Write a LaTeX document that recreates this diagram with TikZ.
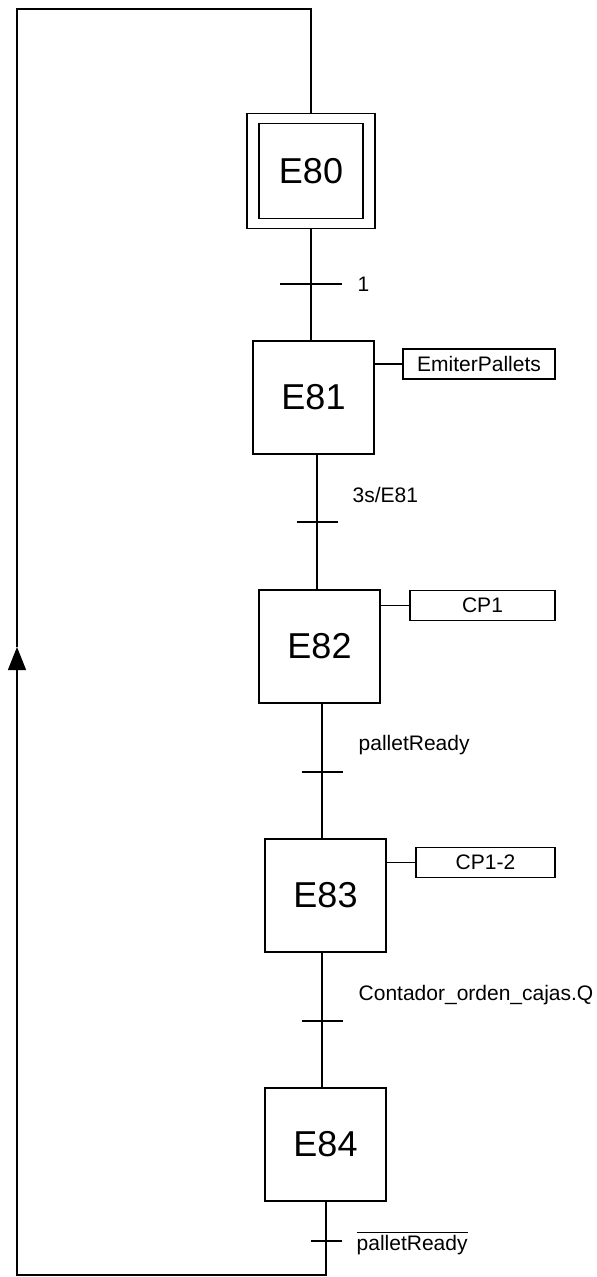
\documentclass[tikz,border=0pt]{standalone}
\usepackage{fontspec}
\setmainfont{Liberation Sans}
\usetikzlibrary{arrows.meta}

\begin{document}
\begin{tikzpicture}[x=0.5pt, y=-0.5pt, line width=0.7pt,
    stepbox/.style={draw, minimum width=60.5pt, minimum height=56.5pt, inner sep=0pt, font=\fontsize{18}{20}\selectfont},
    actbox/.style={draw, minimum height=15pt, inner sep=0pt, font=\fontsize{10.5}{12}\selectfont},
    cond/.style={anchor=west, inner sep=0pt, font=\fontsize{10.5}{12}\selectfont}]
    \useasboundingbox (0,0) rectangle (597,1277);

    % Steps
    \node[stepbox, minimum width=52pt, minimum height=47.5pt] (E80) at (311,171) {E80};
    \node[draw, minimum width=64pt, minimum height=57.5pt] (E80f) at (E80) {};
    \node[stepbox] (E81) at (313.5,397.5) {E81};
    \node[stepbox] (E82) at (319.5,646.5) {E82};
    \node[stepbox] (E83) at (325.5,895.5) {E83};
    \node[stepbox] (E84) at (325.5,1144.5) {E84};

    % Actions
    \node[actbox, minimum width=76pt] (A81) at (479,364) {EmiterPallets};
    \node[actbox, minimum width=72.5pt] (A82) at (482.5,605.5) {CP1};
    \node[actbox, minimum width=69.5pt] (A83) at (485.5,862.5) {CP1-2};
    \draw (A81.west) -- (A81.west -| E81.east);
    \draw (A82.west) -- (A82.west -| E82.east);
    \draw (A83.west) -- (A83.west -| E83.east);

    % Transitions
    \coordinate (t0) at (311,284);
    \coordinate (t1) at (317,522);
    \coordinate (t2) at (322,772);
    \coordinate (t3) at (322,1021);
    \coordinate (t4) at (326,1241);
    \draw (E80f.south) -- (E81.north -| E80f.south);
    \draw (E81.south -| t1) -- (E82.north -| t1);
    \draw (E82.south -| t2) -- (E83.north -| t2);
    \draw (E83.south -| t3) -- (E84.north -| t3);
    \foreach \t/\w in {t0/15.5, t1/10.25, t2/10.25, t3/10.25, t4/7.75}
        \draw ([xshift=-\w pt]\t) -- ([xshift=\w pt]\t);

    \node[cond] (c0) at (357,284) {1};
    \node[cond] (c1) at (352,495) {3s/E81};
    \node[cond] (c2) at (358,745) {palletReady};
    \node[cond] (c3) at (358,995) {Contador\_orden\_cajas.Q};
    \node[cond] (c4) at (356,1243) {$\overline{\mbox{palletReady}}$};

    % Loop back to E80
    \coordinate (bl) at (17,1275);
    \coordinate (tl) at (17,9);
    \coordinate (arr) at (17,647);
    \draw[-{Triangle[length=11.5pt,width=9pt]}] (E84.south -| t4) |- (bl) -- (arr);
    \draw (arr) -- (tl) -| (E80f.north);
\end{tikzpicture}
\end{document}
